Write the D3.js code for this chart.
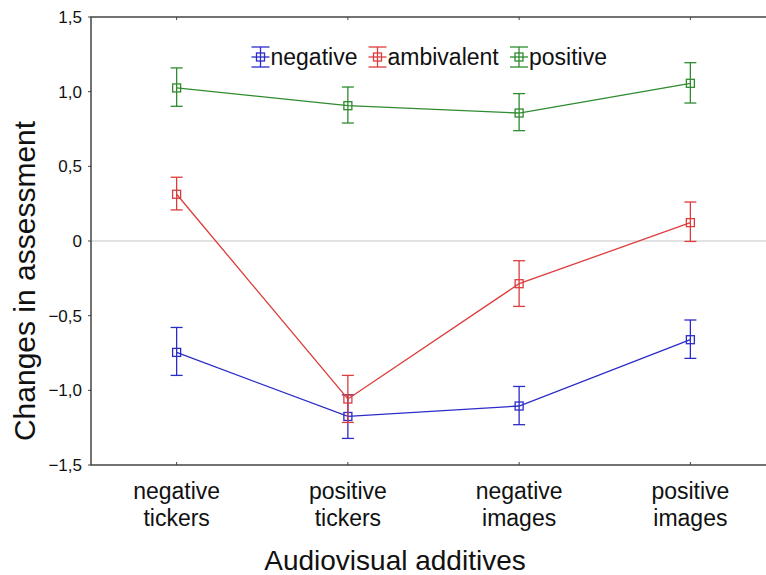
<!DOCTYPE html>
<html>
<head>
<meta charset="utf-8">
<script src="https://cdn.jsdelivr.net/npm/d3@7"></script>
<style>
  body { margin: 0; background: #fff; }
  text { font-family: "Liberation Sans", Arial, sans-serif; fill: #111; }
</style>
</head>
<body>
<div id="chart"></div>
<script>
// data
const categories = ["negative tickers", "positive tickers", "negative images", "positive images"];
const seriesNames = ["negative", "ambivalent", "positive"];
const negMean = [-0.746, -1.175, -1.105, -0.661];
const negLow  = [-0.900, -1.322, -1.230, -0.786];
const negHigh = [-0.579, -1.030, -0.974, -0.529];
const ambMean = [0.313, -1.058, -0.286, 0.123];
const ambLow  = [0.208, -1.215, -0.438, -0.003];
const ambHigh = [0.427, -0.900, -0.132, 0.261];
const posMean = [1.025, 0.906, 0.857, 1.056];
const posLow  = [0.902, 0.790, 0.739, 0.924];
const posHigh = [1.159, 1.031, 0.987, 1.194];
const yTicks = [-1.5, -1.0, -0.5, 0, 0.5, 1.0, 1.5];

const colors = { negative: "#2b2bc8", ambivalent: "#dd3c3c", positive: "#2e8b2e" };

const W = 766, H = 575;
const plotLeft = 91, plotTop = 17, plotBottom = 465, plotRight = 776;

const svg = d3.select("#chart").append("svg")
    .attr("width", W)
    .attr("height", H);

const x = d3.scalePoint()
    .domain(categories)
    .range([plotLeft, plotRight])
    .padding(0.5);

const y = d3.scaleLinear()
    .domain([-1.5, 1.5])
    .range([plotBottom, plotTop]);

// zero reference line
svg.append("line")
    .attr("x1", plotLeft).attr("x2", W)
    .attr("y1", y(0)).attr("y2", y(0))
    .attr("stroke", "#d8d8d8")
    .attr("stroke-width", 1.5);

// frame: left, top, bottom
const frameColor = "#444";
svg.append("path")
    .attr("d", `M${W},${plotTop}H${plotLeft}V${plotBottom}H${W}`)
    .attr("fill", "none")
    .attr("stroke", frameColor)
    .attr("stroke-width", 1.5);

// y ticks + labels
const fmt = d => d3.format(".1f")(d).replace(".", ",");
yTicks.forEach(t => {
    svg.append("line")
        .attr("x1", plotLeft - 3).attr("x2", plotLeft)
        .attr("y1", y(t)).attr("y2", y(t))
        .attr("stroke", frameColor);
    svg.append("text")
        .attr("x", plotLeft - 9)
        .attr("y", y(t))
        .attr("dy", "0.35em")
        .attr("text-anchor", "end")
        .style("font-size", "17px")
        .text(t === 0 ? "0" : fmt(t));
});

// x ticks (top & bottom) + two-line labels
categories.forEach(c => {
    svg.append("line")
        .attr("x1", x(c)).attr("x2", x(c))
        .attr("y1", plotBottom).attr("y2", plotBottom - 3)
        .attr("stroke", frameColor);
    svg.append("line")
        .attr("x1", x(c)).attr("x2", x(c))
        .attr("y1", plotTop).attr("y2", plotTop + 3)
        .attr("stroke", frameColor);
    const words = c.split(" ");
    const t = svg.append("text")
        .attr("text-anchor", "middle")
        .style("font-size", "23px");
    words.forEach((w, i) => {
        t.append("tspan")
            .attr("x", x(c))
            .attr("y", 499 + i * 27)
            .text(w);
    });
});

// axis titles
svg.append("text")
    .attr("x", 395)
    .attr("y", 570)
    .attr("text-anchor", "middle")
    .style("font-size", "28px")
    .text("Audiovisual additives");

svg.append("text")
    .attr("transform", `translate(35,281) rotate(-90)`)
    .attr("text-anchor", "middle")
    .style("font-size", "30px")
    .text("Changes in assessment");

// series
const series = [
    { name: "negative", mean: negMean, low: negLow, high: negHigh },
    { name: "ambivalent", mean: ambMean, low: ambLow, high: ambHigh },
    { name: "positive", mean: posMean, low: posLow, high: posHigh }
];

const line = d3.line()
    .x((d, i) => x(categories[i]))
    .y(d => y(d));

const capW = 6, sq = 4;

series.forEach(s => {
    const col = colors[s.name];
    const g = svg.append("g");
    g.append("path")
        .datum(s.mean)
        .attr("d", line)
        .attr("fill", "none")
        .attr("stroke", col)
        .attr("stroke-width", 1.3);

    categories.forEach((c, i) => {
        const cx = x(c);
        g.append("line")
            .attr("x1", cx).attr("x2", cx)
            .attr("y1", y(s.low[i])).attr("y2", y(s.high[i]))
            .attr("stroke", col).attr("stroke-width", 1.3);
        [s.low[i], s.high[i]].forEach(v => {
            g.append("line")
                .attr("x1", cx - capW).attr("x2", cx + capW)
                .attr("y1", y(v)).attr("y2", y(v))
                .attr("stroke", col).attr("stroke-width", 1.3);
        });
        g.append("rect")
            .attr("x", cx - sq).attr("y", y(s.mean[i]) - sq)
            .attr("width", sq * 2).attr("height", sq * 2)
            .attr("fill", "none")
            .attr("stroke", col).attr("stroke-width", 1.3);
    });
});

// legend
const legendX = [260.5, 377.5, 519];
const legendY = 57;
seriesNames.forEach((n, i) => {
    const col = colors[n];
    const lx = legendX[i];
    const lg = svg.append("g");
    lg.append("line")
        .attr("x1", lx).attr("x2", lx)
        .attr("y1", legendY - 10).attr("y2", legendY + 10)
        .attr("stroke", col).attr("stroke-width", 1.3);
    [legendY - 10, legendY + 10].forEach(yy => {
        lg.append("line")
            .attr("x1", lx - 9).attr("x2", lx + 9)
            .attr("y1", yy).attr("y2", yy)
            .attr("stroke", col).attr("stroke-width", 1.3);
    });
    lg.append("line")
        .attr("x1", lx - 9).attr("x2", lx + 9)
        .attr("y1", legendY).attr("y2", legendY)
        .attr("stroke", col).attr("stroke-width", 1.3);
    lg.append("rect")
        .attr("x", lx - sq).attr("y", legendY - sq)
        .attr("width", sq * 2).attr("height", sq * 2)
        .attr("fill", "none")
        .attr("stroke", col).attr("stroke-width", 1.3);
    lg.append("text")
        .attr("x", lx + 10)
        .attr("y", legendY + 8)
        .style("font-size", "23px")
        .text(n);
});
</script>
</body>
</html>
